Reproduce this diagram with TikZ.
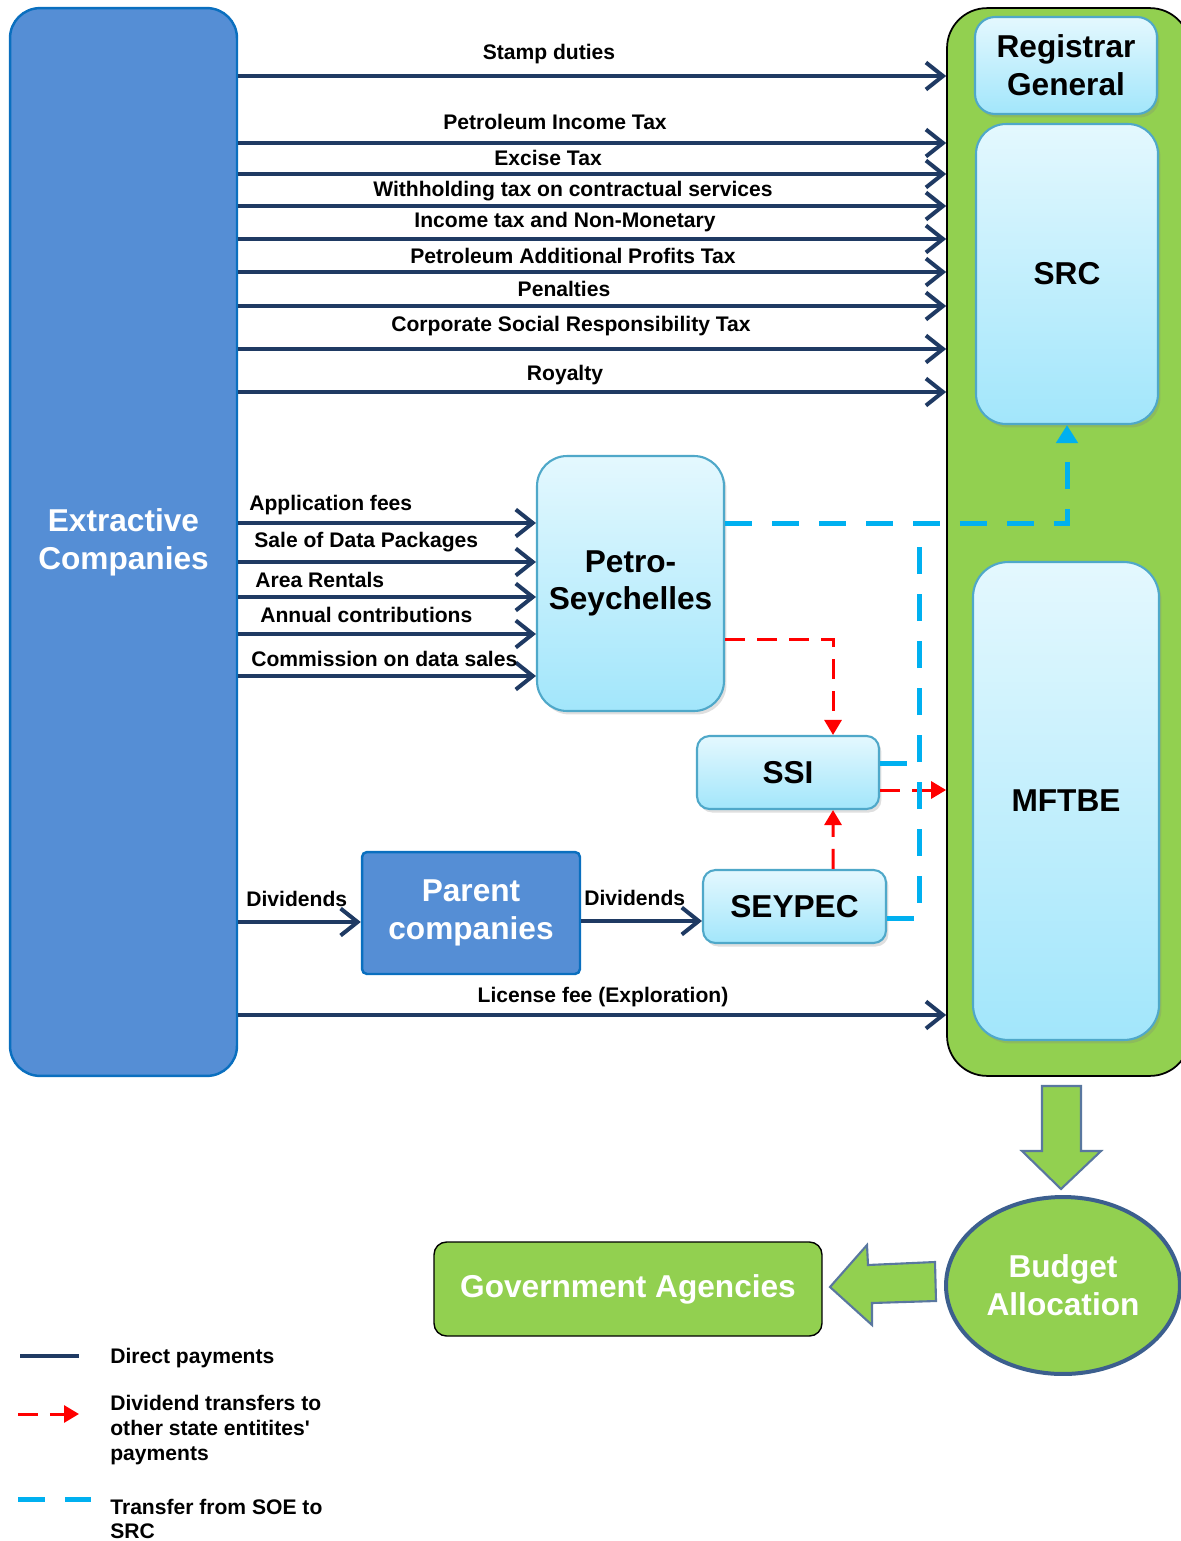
\documentclass[tikz,border=0pt]{standalone}
\usepackage{fontspec}
\setmainfont{Liberation Sans}[Ligatures=TeXOff]
\usetikzlibrary{arrows.meta,calc,shapes.geometric,shadows}

\definecolor{corpblue}{HTML}{558ED5}
\definecolor{corpedge}{HTML}{0A6FBF}
\definecolor{leaf}{HTML}{92D050}
\definecolor{navy}{HTML}{1F3A63}
\definecolor{soeblue}{HTML}{00B0F0}
\definecolor{boxtop}{HTML}{E4F8FE}
\definecolor{boxbot}{HTML}{A2E6FB}
\definecolor{boxedge}{HTML}{4FA8C9}
\definecolor{ringblue}{HTML}{3C5F8E}

\tikzset{
  bigfont/.style={font=\fontsize{18}{21.5}\selectfont\bfseries},
  lbl/.style={font=\fontsize{12}{14}\selectfont\bfseries, inner sep=0pt, yshift=-0.04cm},
  agency/.style={rectangle, rounded corners=#1, top color=boxtop, bottom color=boxbot,
    draw=boxedge, line width=1.2pt, bigfont, align=center,
    drop shadow={shadow xshift=0.05cm, shadow yshift=-0.07cm, opacity=0.25}},
  agency/.default=0.4cm,
  corp/.style={rectangle, rounded corners=#1, fill=corpblue, draw=corpedge,
    line width=1.4pt, text=white, bigfont, align=center},
  corp/.default=0.1cm,
  pay/.style={draw=navy, line width=0.08cm, -{Straight Barb[length=0.34cm,width=0.54cm]}},
  dividend/.style={draw=red, line width=0.06cm, dash pattern=on 0.4cm off 0.24cm,
    -{Triangle[length=0.3cm,width=0.34cm]}},
  transfer/.style={draw=soeblue, line width=0.1cm, dash pattern=on 0.54cm off 0.4cm},
  blockarrow/.style={fill=leaf, draw=ringblue!85, line width=1.2pt, line join=miter}
}

\begin{document}
\begin{tikzpicture}[x=0.02cm, y=-0.02cm]
  \useasboundingbox (0,0) rectangle (1180,1541);

  % payers and receivers
  \node[corp=0.6cm, minimum width=4.54cm, minimum height=21.36cm] (ext) at (123.5,542) {Extractive\\Companies};
  \node[draw=black, fill=leaf, rounded corners=0.8cm, line width=1pt,
    minimum width=4.86cm, minimum height=21.36cm] (state) at (1068.5,542) {};
  \node[agency, minimum width=3.64cm, minimum height=1.94cm] (reg) at (1066,65.5) {Registrar\\General};
  \node[agency=0.6cm, minimum width=3.64cm, minimum height=6cm] (src) at (1067,274) {SRC};
  \node[agency=0.7cm, minimum width=3.72cm, minimum height=9.56cm] (mftbe) at (1066,801) {MFTBE};
  \node[agency=0.6cm, minimum width=3.74cm, minimum height=5.1cm] (petro) at (630.5,583.5) {Petro-\\Seychelles};
  \node[agency=0.25cm, minimum width=3.64cm, minimum height=1.46cm] (ssi) at (788,772.5) {SSI};
  \node[agency=0.25cm, minimum width=3.66cm, minimum height=1.46cm] (seypec) at (794.5,906.5) {SEYPEC};
  \node[corp, minimum width=4.36cm, minimum height=2.44cm] (parent) at (471,913) {Parent\\companies};
  \node[draw=black, fill=leaf, rounded corners=0.25cm, line width=0.8pt, text=white, bigfont,
    minimum width=7.76cm, minimum height=1.88cm] (gov) at (628,1289) {Government Agencies};
  \node[ellipse, fill=leaf, draw=ringblue, line width=0.08cm, text=white, bigfont, align=center,
    minimum width=4.68cm, minimum height=3.54cm] (budget) at (1063,1285.5) {Budget\\Allocation};

  % direct payments
  \foreach \yy/\ly/\lx/\txt [count=\i] in {
      76/52/549/Stamp duties,
      143/120/555/Petroleum Income Tax,
      174/156/548/Excise Tax,
      206/189/573/Withholding tax on contractual services,
      239/220/565/Income tax and Non-Monetary,
      272/254/573/Petroleum Additional Profits Tax,
      306/287/564/Penalties,
      349/324/571/Corporate Social Responsibility Tax,
      392/373/565/Royalty} {
    \draw[pay] (ext.east |- 0,\yy) -- (state.west |- 0,\yy);
    \node[lbl] (tax\i) at (\lx,\ly) {\txt};
  }
  \foreach \yy/\ly/\lx/\txt [count=\i] in {
      523/503/249/Application fees,
      562/540/254/Sale of Data Packages,
      597/578/255/Area Rentals,
      634/613/260/Annual contributions,
      676/657/251/Commission on data sales} {
    \draw[pay] (ext.east |- 0,\yy) -- (petro.west |- 0,\yy);
    \node[lbl, anchor=west] (fee\i) at (\lx,\ly) {\txt};
  }
  \draw[pay] (ext.east |- 0,922) -- (parent.west |- 0,922);
  \node[lbl, anchor=west] (div1) at (246,897) {Dividends};
  \draw[pay] (parent.east |- 0,921) -- (seypec.west |- 0,921);
  \node[lbl, anchor=west] (div2) at (584,896) {Dividends};
  \draw[pay] (ext.east |- 0,1015) -- (state.west |- 0,1015);
  \node[lbl] (lic) at (603,995) {License fee (Exploration)};

  % dividend transfers
  \draw[dividend] (petro.east |- 0,639) -| ($(ssi.north)+(45,0)$);
  \draw[dividend] ($(seypec.north)+(38.5,0)$) -- ($(ssi.south)+(45,0)$);
  \draw[dividend] (ssi.east |- 0,790) -- (state.west |- 0,790);

  % transfers from SOE to SRC
  \coordinate (join) at (919,533);
  \draw[transfer, -{Triangle[length=0.36cm,width=0.42cm]}] (petro.east |- 0,523) -| (src.south);
  \draw[transfer] (seypec.east |- 0,918) -| (join);
  \draw[transfer] (ssi.east |- 0,763) -- (join |- 0,763);

  % budget flow
  \draw[blockarrow] (1042,1086) -- (1081,1086) -- (1081,1151) -- (1101,1151) -- (1061,1189)
    -- (1022,1151) -- (1042,1151) -- cycle;
  \draw[blockarrow] (935,1262) -- (868,1265) -- (867,1245) -- (830,1287) -- (872,1325)
    -- (872,1303) -- (936,1301) -- cycle;

  % legend
  \draw[navy, line width=0.08cm] (20,1356) -- (79,1356);
  \node[lbl, anchor=west] (key1) at (110,1356) {Direct payments};
  \draw[dividend] (18,1414) -- (79,1414);
  \node[lbl, anchor=west, align=left] (key2) at (110,1428) {Dividend transfers to\\other state entitites'\\payments};
  \draw[transfer] (18,1499) -- (91,1499);
  \node[lbl, anchor=west, align=left] (key3) at (110,1517) {Transfer from SOE to\\SRC};
\end{tikzpicture}
\end{document}
